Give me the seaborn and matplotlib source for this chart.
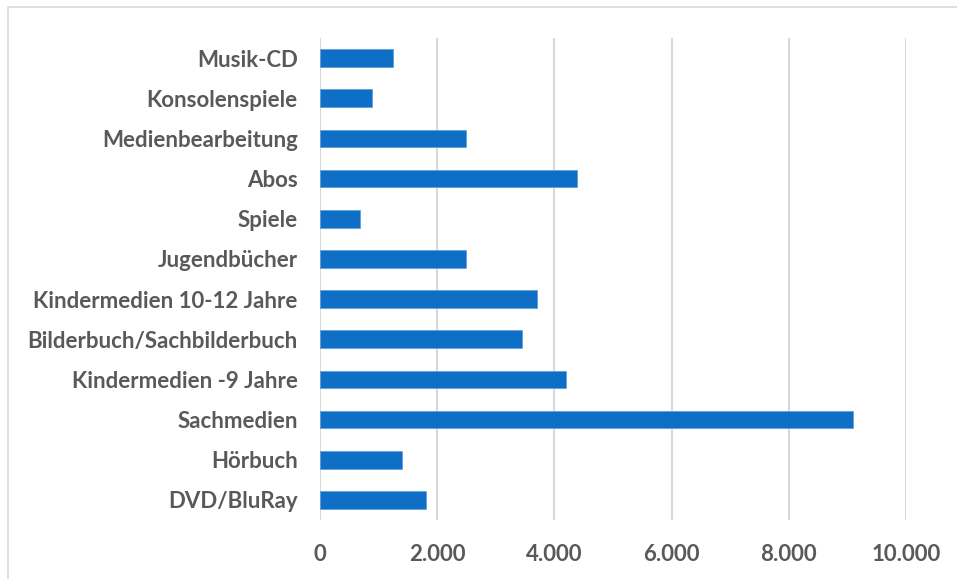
import matplotlib
matplotlib.use("Agg")
import matplotlib.pyplot as plt
import seaborn as sns
import pandas as pd
from matplotlib.patches import Rectangle

categories = ['Musik-CD', 'Konsolenspiele', 'Medienbearbeitung', 'Abos', 'Spiele',
              'Jugendbücher', 'Kindermedien 10-12 Jahre', 'Bilderbuch/Sachbilderbuch',
              'Kindermedien -9 Jahre', 'Sachmedien', 'Hörbuch', 'DVD/BluRay']
values = [1240, 890, 2490, 4380, 680, 2490, 3700, 3450, 4200, 9100, 1400, 1810]
xticks = [0, 2000, 4000, 6000, 8000, 10000]
xtick_labels = ['0', '2.000', '4.000', '6.000', '8.000', '10.000']

df = pd.DataFrame({'kategorie': categories, 'anzahl': values})

sns.set_style("white")
plt.rcParams['font.family'] = ['Lato', 'DejaVu Sans']

fig = plt.figure(figsize=(9.57, 5.79), dpi=100)
ax = fig.add_axes([320 / 957, 1 - 520 / 579, (906 - 320) / 957, (520 - 38) / 579])

sns.barplot(data=df, y='kategorie', x='anzahl', order=categories, orient='h',
            color='#0F6FC6', saturation=1, width=0.44, ax=ax,
            edgecolor='#5B9BD5', linewidth=0.5)

## axes
ax.set_xlim(0, 10000)
ax.set_ylim(11.5, -0.5)
ax.set_xticks(xticks)
ax.set_xticklabels(xtick_labels)
ax.grid(axis='x', color='#D9D9D9', linewidth=1.5)
ax.set_axisbelow(True)
for s in ax.spines.values():
    s.set_visible(False)
ax.tick_params(axis='both', length=0, labelsize=16, labelcolor='#595959')
ax.tick_params(axis='y', pad=16)
ax.tick_params(axis='x', pad=17)
for lab in ax.get_xticklabels() + ax.get_yticklabels():
    lab.set_fontweight('bold')
ax.set_xlabel('')
ax.set_ylabel('')

## outer frame
fig.patches.append(Rectangle((8 / 957, -0.01), 1.0, 1 - 7 / 579 + 0.01,
                             transform=fig.transFigure, fill=False,
                             edgecolor='#D9D9D9', linewidth=1.2))

fig.savefig('out.png', dpi=100)
